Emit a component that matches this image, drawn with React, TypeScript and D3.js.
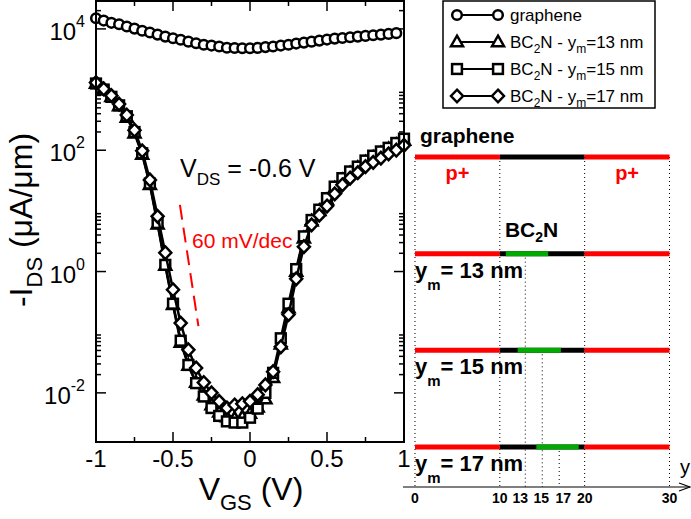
import * as d3 from "d3";

// gate voltage grid (V)
const vgs = [
  -1, -0.95, -0.9, -0.85, -0.8, -0.75, -0.7, -0.65, -0.6, -0.55, -0.5, -0.45,
  -0.4, -0.35, -0.3, -0.25, -0.2, -0.15, -0.1, -0.05, 0, 0.05, 0.1, 0.15, 0.2,
  0.25, 0.3, 0.35, 0.4, 0.45, 0.5, 0.55, 0.6, 0.65, 0.7, 0.75, 0.8, 0.85, 0.9,
  0.95, 1,
];

// log10(-IDS), one per vgs point
const grapheneLog = [
  4.176, 4.137, 4.1, 4.077, 4.04, 4.005, 3.97, 3.94, 3.906, 3.873, 3.846, 3.82,
  3.79, 3.764, 3.74, 3.725, 3.71, 3.69, 3.685, 3.68, 3.68, 3.687, 3.7, 3.71,
  3.725, 3.74, 3.758, 3.774, 3.79, 3.807, 3.824, 3.84, 3.85, 3.863, 3.873,
  3.885, 3.896, 3.906, 3.918, 3.93,
];
const bc2n13Log = [
  3.1, 3.0, 2.88, 2.73, 2.54, 2.28, 1.93, 1.43, 0.78, 0.1, -0.55, -1.17, -1.55,
  -1.83, -2.04, -2.2, -2.32, -2.4, -2.42, -2.4, -2.34, -2.24, -2.1, -1.75, -1.2,
  -0.6, 0.0, 0.55, 0.83, 1.0, 1.18, 1.37, 1.51, 1.62, 1.71, 1.8, 1.88, 1.95,
  2.02, 2.09, 2.16,
];
const bc2n15Log = [
  3.1, 3.0, 2.88, 2.74, 2.56, 2.3, 1.95, 1.45, 0.8, 0.11, -0.53, -1.14, -1.54,
  -1.84, -2.06, -2.25, -2.38, -2.47, -2.49, -2.49, -2.41, -2.26, -2.0, -1.67,
  -1.1, -0.53, 0.04, 0.58, 0.85, 1.02, 1.21, 1.4, 1.54, 1.65, 1.73, 1.83, 1.91,
  1.98, 2.04, 2.12, 2.19,
];
const bc2n17Log = [
  3.115, 3.01, 2.9, 2.76, 2.58, 2.33, 1.99, 1.51, 0.91, 0.31, -0.3, -0.85,
  -1.29, -1.59, -1.83, -2.0, -2.14, -2.25, -2.2, -2.18, -2.14, -2.03, -1.87,
  -1.65, -1.24, -0.71, -0.12, 0.41, 0.77, 0.93, 1.08, 1.28, 1.43, 1.54, 1.63,
  1.73, 1.8, 1.87, 1.94, 2.0, 2.08,
];

const xTicks = [-1, -0.5, 0, 0.5, 1];
const xTickLabels = ["-1", "-0.5", "0", "0.5", "1"];
const xMinorTicks = [-0.75, -0.25, 0.25, 0.75];
const yTickExps = [-2, 0, 2, 4];

// 60 mV/dec guide: [VGS, log10 I]
const slopeFrom = [-0.455, 1.1];
const slopeTo = [-0.335, -0.9];

// schematic of the channel (nm)
const rowNames = ["graphene", "13", "15", "17"];
const ymValues = [13, 15, 17];
const greenFrom = [10.7, 12.1, 14.3];
const greenTo = [15.7, 17.2, 19.3];
const regionBounds = [0, 10, 20, 30];
const channelTicks = [0, 10, 13, 15, 17, 20, 30];
const channelTickNudge = [0, 0, -5, -1, 4, 0, 0];

const FONT = "'Liberation Sans', Arial, Helvetica, sans-serif";
const RED = "#ff0000";
const GREEN = "#00aa00";

type Shape = "circle" | "triangle" | "square" | "diamond";

const Marker = ({ shape, cx, cy }: { shape: Shape; cx: number; cy: number }) => {
  const common = { fill: "#fff", stroke: "#000", strokeWidth: 2.5 };
  if (shape === "circle") return <circle cx={cx} cy={cy} r={4.8} {...common} />;
  if (shape === "square")
    return <rect x={cx - 4.9} y={cy - 4.9} width={9.8} height={9.8} {...common} />;
  if (shape === "triangle")
    return (
      <path
        d={`M${cx},${cy - 6.3}L${cx + 6},${cy + 4.2}L${cx - 6},${cy + 4.2}Z`}
        {...common}
      />
    );
  return (
    <path
      d={`M${cx},${cy - 6.3}L${cx + 6},${cy}L${cx},${cy + 6.3}L${cx - 6},${cy}Z`}
      {...common}
    />
  );
};

export default function App() {
  const x = d3.scaleLinear().domain([-1, 1]).range([96, 404]);
  const y = d3.scaleLog().domain([10 ** -2.81, 10 ** 4.46]).range([442, 1]);
  const line = d3
    .line<number[]>()
    .x((d) => x(d[0]))
    .y((d) => y(d[1]));

  const series: { shape: Shape; pts: number[][] }[] = [
    { shape: "circle", pts: grapheneLog.map((v, i) => [vgs[i], 10 ** v]) },
    { shape: "triangle", pts: bc2n13Log.map((v, i) => [vgs[i], 10 ** v]) },
    { shape: "square", pts: bc2n15Log.map((v, i) => [vgs[i], 10 ** v]) },
    { shape: "diamond", pts: bc2n17Log.map((v, i) => [vgs[i], 10 ** v]) },
  ];

  const yMinor: number[] = [];
  yTickExps.forEach((n) => {
    for (let k = 2; k <= 9; k++) {
      const v = k * 10 ** n;
      if (v < y.domain()[1]) yMinor.push(v);
    }
  });

  const [x0, x1] = x.range();
  const [yb, yt] = y.range();

  // schematic scales
  const xs = d3.scaleLinear().domain([0, 30]).range([415, 669.5]);
  const row = d3.scalePoint().domain(rowNames).range([157, 447]);
  const axisY = 487;

  const legendRows = d3.scalePoint().domain(rowNames).range([15, 96]);

  return (
    <svg
      width={691}
      height={519}
      style={{ position: "absolute", left: 0, top: 0, background: "#fff" }}
      fontFamily={FONT}
    >
      {/* ticks */}
      <g stroke="#000" strokeWidth={1.5}>
        {xTicks.map((t) => (
          <g key={t}>
            <line x1={x(t)} x2={x(t)} y1={yb} y2={yb - 10} />
            <line x1={x(t)} x2={x(t)} y1={yt} y2={yt + 10} />
          </g>
        ))}
        {xMinorTicks.map((t) => (
          <g key={t}>
            <line x1={x(t)} x2={x(t)} y1={yb} y2={yb - 5} />
            <line x1={x(t)} x2={x(t)} y1={yt} y2={yt + 5} />
          </g>
        ))}
        {yTickExps.map((n) => (
          <g key={n}>
            <line x1={x0} x2={x0 + 10} y1={y(10 ** n)} y2={y(10 ** n)} />
            <line x1={x1} x2={x1 - 10} y1={y(10 ** n)} y2={y(10 ** n)} />
          </g>
        ))}
        {yMinor.map((v) => (
          <g key={v}>
            <line x1={x0} x2={x0 + 5} y1={y(v)} y2={y(v)} />
            <line x1={x1} x2={x1 - 5} y1={y(v)} y2={y(v)} />
          </g>
        ))}
      </g>

      {/* tick labels */}
      <g fontSize={24} fill="#000">
        {xTicks.map((t, i) => (
          <text key={t} x={x(t)} y={467} textAnchor="middle">
            {xTickLabels[i]}
          </text>
        ))}
        {yTickExps.map((n) => (
          <text key={n} x={85} y={y(10 ** n) + 11} textAnchor="end">
            10
            <tspan dy={-13} fontSize={16}>
              {n}
            </tspan>
          </text>
        ))}
      </g>

      {/* axis titles */}
      <text x={251} y={500} fontSize={32} textAnchor="middle">
        V
        <tspan dy={10} fontSize={22}>
          GS
        </tspan>
        <tspan dy={-10}> (V)</tspan>
      </text>
      <text
        transform="translate(32,220) rotate(-90)"
        fontSize={32}
        textAnchor="middle"
      >
        -I
        <tspan dy={10} fontSize={22}>
          DS
        </tspan>
        <tspan dy={-10}> (μA/μm)</tspan>
      </text>

      {/* annotations */}
      <text x={180} y={177} fontSize={25}>
        V
        <tspan dy={8} fontSize={17}>
          DS
        </tspan>
        <tspan dy={-8}> = -0.6 V</tspan>
      </text>
      <text x={192} y={248} fontSize={21} fill={RED}>
        60 mV/dec
      </text>
      <line
        x1={x(slopeFrom[0])}
        y1={y(10 ** slopeFrom[1])}
        x2={x(slopeTo[0])}
        y2={y(10 ** slopeTo[1])}
        stroke={RED}
        strokeWidth={2}
        strokeDasharray="15,8"
      />

      {/* curves */}
      {series.map((s) => (
        <g key={s.shape}>
          <path d={line(s.pts) ?? ""} fill="none" stroke="#000" strokeWidth={2.5} />
          {s.pts.map((p, i) => (
            <Marker key={i} shape={s.shape} cx={x(p[0])} cy={y(p[1])} />
          ))}
        </g>
      ))}

      {/* frame */}
      <rect
        x={x0}
        y={yt}
        width={x1 - x0}
        height={yb - yt}
        fill="none"
        stroke="#000"
        strokeWidth={2}
      />

      {/* legend */}
      <rect x={443} y={1} width={212} height={107} fill="#fff" stroke="#000" strokeWidth={1.5} />
      {series.map((s, i) => {
        const ly = legendRows(rowNames[i]) ?? 0;
        return (
          <g key={s.shape}>
            <line x1={457} x2={498} y1={ly} y2={ly} stroke="#000" strokeWidth={2} />
            <Marker shape={s.shape} cx={457} cy={ly} />
            <Marker shape={s.shape} cx={498} cy={ly} />
            <text x={510} y={ly + 6} fontSize={17}>
              {i === 0 ? (
                "graphene"
              ) : (
                <>
                  BC<tspan dy={5} fontSize={12}>2</tspan>
                  <tspan dy={-5}>N - y</tspan>
                  <tspan dy={5} fontSize={12}>m</tspan>
                  <tspan dy={-5}>={rowNames[i]} nm</tspan>
                </>
              )}
            </text>
          </g>
        );
      })}

      {/* schematic */}
      <g stroke="#000" strokeWidth={1} strokeDasharray="1,3">
        {regionBounds.map((b) => (
          <line key={b} x1={xs(b)} x2={xs(b)} y1={row("graphene")} y2={axisY} />
        ))}
        {ymValues.map((m) => (
          <line key={m} x1={xs(m)} x2={xs(m)} y1={row(String(m))} y2={axisY} />
        ))}
      </g>
      {rowNames.map((r, i) => {
        const ry = row(r) ?? 0;
        return (
          <g key={r}>
            <line x1={xs(0)} x2={xs(10)} y1={ry} y2={ry} stroke={RED} strokeWidth={5} />
            <line x1={xs(10)} x2={xs(20)} y1={ry} y2={ry} stroke="#000" strokeWidth={5} />
            <line x1={xs(20)} x2={xs(30)} y1={ry} y2={ry} stroke={RED} strokeWidth={5} />
            {i > 0 && (
              <line
                x1={xs(greenFrom[i - 1])}
                x2={xs(greenTo[i - 1])}
                y1={ry}
                y2={ry}
                stroke={GREEN}
                strokeWidth={5}
              />
            )}
            {i > 0 && (
              <text x={xs(0)} y={ry + 24} fontWeight="bold" fontSize={22}>
                y
                <tspan dy={12} fontSize={15}>
                  m
                </tspan>
                <tspan dy={-12}>= {r} nm</tspan>
              </text>
            )}
          </g>
        );
      })}
      <text x={420} y={143} fontSize={21} fontWeight="bold">
        graphene
      </text>
      <g fontSize={20} fontWeight="bold" fill={RED} textAnchor="middle">
        <text x={xs(5)} y={180}>p+</text>
        <text x={xs(25)} y={180}>p+</text>
      </g>
      <text x={xs(10.6)} y={237} fontSize={21} fontWeight="bold">
        BC<tspan dy={5} fontSize={14}>2</tspan>
        <tspan dy={-5}>N</tspan>
      </text>

      {/* schematic axis */}
      <line x1={403} x2={690} y1={axisY} y2={axisY} stroke="#000" strokeWidth={1.2} />
      <path
        d={`M679,${axisY - 4}L690,${axisY}L679,${axisY + 4}`}
        fill="none"
        stroke="#000"
        strokeWidth={1.2}
      />
      <text x={680} y={474} fontSize={20}>
        y
      </text>
      <g fontSize={14} fontWeight="bold" textAnchor="middle">
        {channelTicks.map((t, i) => (
          <text key={t} x={xs(t) + channelTickNudge[i]} y={503}>
            {t}
          </text>
        ))}
      </g>
    </svg>
  );
}
